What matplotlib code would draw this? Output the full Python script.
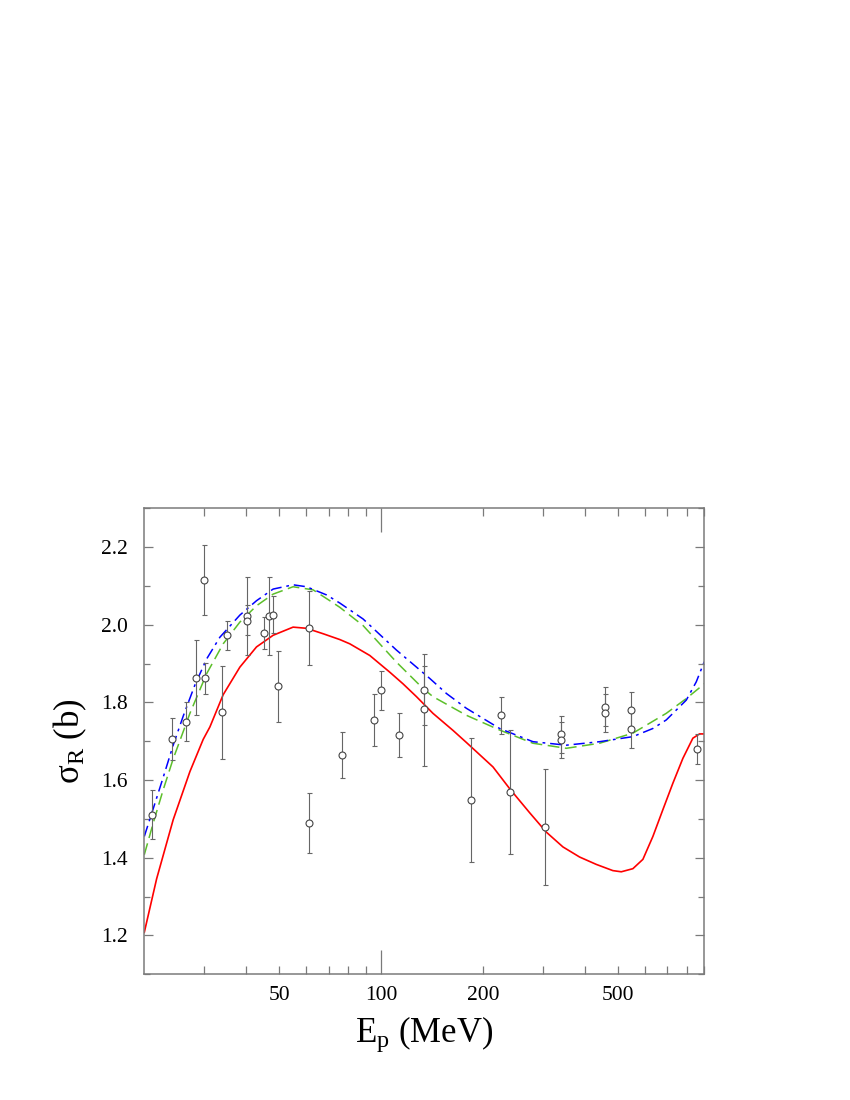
import matplotlib
matplotlib.use('Agg')
import matplotlib.pyplot as plt
from matplotlib.ticker import FixedLocator, FuncFormatter, MultipleLocator

plt.rcParams['font.family'] = ['Liberation Serif', 'DejaVu Serif']
plt.rcParams['mathtext.fontset'] = 'custom'
plt.rcParams['mathtext.rm'] = 'Liberation Serif'
plt.rcParams['mathtext.it'] = 'Liberation Serif:italic'
plt.rcParams['mathtext.bf'] = 'Liberation Serif:bold'
plt.rcParams['lines.scale_dashes'] = False

# ---------------- data ----------------
exp_E = [21.1, 24.2, 26.5, 28.5, 30.0, 30.3, 34.0, 35.1, 40.1, 40.1, 45.2, 46.7,
         48.0, 49.5, 61.1, 61.2, 76.9, 95.0, 100.0, 113.0, 133.6, 133.6, 184.8,
         226.0, 239.8, 305.5, 340.6, 340.6, 459.0, 459.0, 548.0, 548.0, 859.0]
exp_sigma = [1.510, 1.706, 1.750, 1.864, 2.116, 1.862, 1.775, 1.973, 2.022, 2.011,
             1.978, 2.022, 2.026, 1.842, 1.992, 1.490, 1.665, 1.755, 1.832, 1.716,
             1.833, 1.782, 1.550, 1.767, 1.569, 1.479, 1.718, 1.703, 1.789, 1.772,
             1.780, 1.731, 1.680]
exp_err_lo = [0.062, 0.053, 0.049, 0.097, 0.090, 0.041, 0.121, 0.037, 0.101, 0.036,
              0.041, 0.099, 0.048, 0.093, 0.095, 0.077, 0.060, 0.067, 0.052, 0.057,
              0.091, 0.145, 0.160, 0.048, 0.159, 0.148, 0.049, 0.047, 0.050, 0.049,
              0.046, 0.047, 0.039]
exp_err_hi = [0.064, 0.053, 0.050, 0.098, 0.089, 0.040, 0.120, 0.037, 0.102, 0.039,
              0.041, 0.101, 0.049, 0.091, 0.094, 0.077, 0.060, 0.068, 0.049, 0.056,
              0.091, 0.113, 0.159, 0.047, 0.160, 0.150, 0.047, 0.047, 0.050, 0.051,
              0.046, 0.047, 0.040]

red_E = [20.0, 21.75, 24.34, 27.27, 29.85, 31.24, 34.19, 38.30, 42.88, 48.01, 54.99,
         60.24, 67.44, 75.55, 80.86, 92.62, 106.1, 116.1, 127.2, 142.3, 163.1, 178.6,
         214.0, 239.7, 274.6, 307.6, 344.3, 385.6, 431.9, 483.5, 511.9, 553.9, 592.9,
         634.6, 679.2, 726.9, 778.0, 832.7, 871.3, 900.0]
red_sigma = [1.208, 1.346, 1.498, 1.622, 1.705, 1.737, 1.820, 1.891, 1.943, 1.973, 1.994,
             1.991, 1.977, 1.962, 1.951, 1.921, 1.878, 1.848, 1.815, 1.772, 1.728, 1.697,
             1.634, 1.578, 1.516, 1.466, 1.428, 1.402, 1.383, 1.367, 1.364, 1.372, 1.396,
             1.455, 1.524, 1.592, 1.656, 1.708, 1.719, 1.719]

blue_E = [20.0, 21.26, 22.74, 24.34, 26.06, 28.21, 30.55, 33.43, 38.30, 42.88, 48.01,
          54.99, 60.24, 69.01, 75.55, 88.50, 111.0, 139.2, 156.0, 178.6, 223.9, 280.8,
          352.3, 441.7, 553.9, 634.6, 695.0, 796.2, 852.1, 900.0]
blue_sigma = [1.455, 1.527, 1.607, 1.690, 1.765, 1.845, 1.912, 1.968, 2.025, 2.062, 2.092,
              2.103, 2.098, 2.077, 2.056, 2.015, 1.935, 1.862, 1.823, 1.785, 1.733, 1.699,
              1.690, 1.699, 1.712, 1.733, 1.755, 1.806, 1.853, 1.905]

green_E = [20.0, 21.26, 22.74, 24.34, 25.19, 27.27, 30.55, 34.19, 38.30, 42.88, 48.01,
           54.99, 63.00, 70.60, 75.55, 88.50, 111.0, 133.0, 142.3, 178.6, 223.9, 280.8,
           352.3, 441.7, 553.9, 695.0, 796.2, 900.0]
green_sigma = [1.408, 1.490, 1.575, 1.655, 1.690, 1.772, 1.874, 1.951, 2.007, 2.049, 2.079,
               2.098, 2.090, 2.062, 2.045, 1.998, 1.904, 1.836, 1.815, 1.767, 1.729, 1.695,
               1.682, 1.695, 1.721, 1.772, 1.810, 1.848]

x_major = [100]
x_minor = [30, 40, 50, 60, 70, 80, 90, 200, 300, 400, 500, 600, 700, 800, 900]
x_labels = [50, 100, 200, 500]

# ---------------- figure ----------------
fig = plt.figure(figsize=(8.5, 11), dpi=100)
ax = fig.add_axes([0.16976, 0.11427, 0.65882, 0.42364])

ax.plot(red_E, red_sigma, color='#ff0000', lw=1.2, zorder=2)
gl, = ax.plot(green_E, green_sigma, color='#5cbf2a', lw=1.1, zorder=2)
gl.set_dashes([8.5, 4.0])
bl, = ax.plot(blue_E, blue_sigma, color='#0000ff', lw=1.1, zorder=2)
bl.set_dashes([8.0, 3.5, 2.0, 3.5])

ax.errorbar(exp_E, exp_sigma, yerr=[exp_err_lo, exp_err_hi], fmt='o', ms=5,
            mfc='white', mec='#444444', mew=0.8, ecolor='#666666', elinewidth=0.8,
            capsize=1.8, capthick=0.8, zorder=3)

ax.set_xscale('log')
ax.set_xlim(20, 900)
ax.set_ylim(1.1, 2.3)

ax.xaxis.set_major_locator(FixedLocator(x_major))
ax.xaxis.set_minor_locator(FixedLocator(x_minor))
fmt = FuncFormatter(lambda v, p: ('%d' % round(v)) if round(v) in x_labels else '')
ax.xaxis.set_major_formatter(fmt)
ax.xaxis.set_minor_formatter(fmt)
ax.yaxis.set_major_locator(MultipleLocator(0.2))
ax.yaxis.set_minor_locator(MultipleLocator(0.1))
ax.yaxis.set_major_formatter(FuncFormatter(lambda v, p: '%.1f' % v))

spc = '#7a7a7a'
for s in ax.spines.values():
    s.set_color(spc)
    s.set_linewidth(1.1)

ax.tick_params(axis='both', which='both', direction='in', top=True, right=True,
               color=spc, width=0.9, labelsize=15.5, labelcolor='black')
ax.tick_params(axis='x', which='major', length=17, pad=8.5)
ax.tick_params(axis='x', which='minor', length=5.8, pad=8.5)
ax.tick_params(axis='y', which='major', length=6.5, pad=12)
ax.tick_params(axis='y', which='minor', length=4.3)

ax.set_xlabel(r'$\mathrm{E}_{\mathrm{p}}$ (MeV)', fontsize=25, va='baseline')
ax.xaxis.set_label_coords(0.5, -0.1446)
ax.set_ylabel(r'$\mathrm{σ}_{\mathrm{R}}$ (b)', fontsize=25, va='center')
ax.yaxis.set_label_coords(-0.133, 0.5)

fig.savefig('out.png', dpi=100)
